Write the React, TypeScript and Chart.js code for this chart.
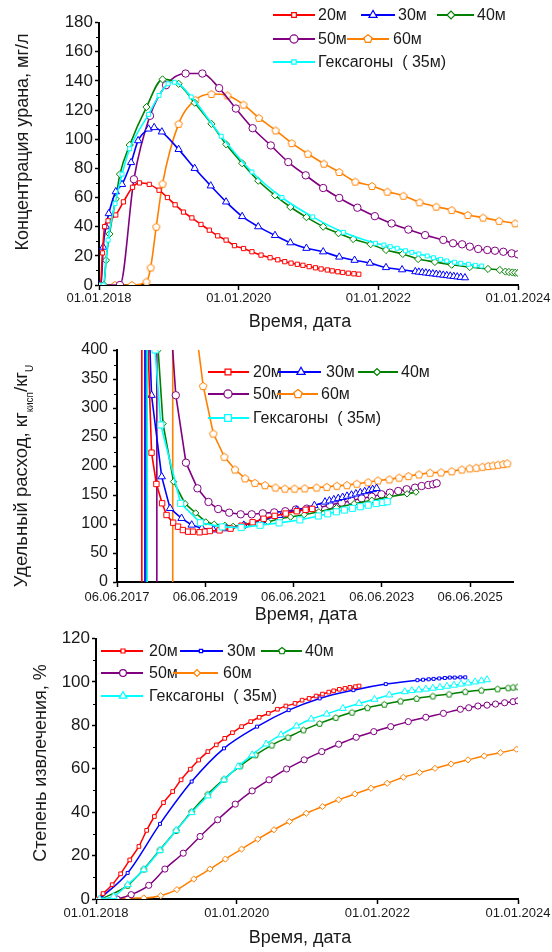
import React, { useEffect, useRef } from 'react';
import { Chart, registerables } from 'chart.js';

Chart.register(...registerables);

// ---------------- DATA ----------------
const seriesNames = ['20м', '30м', '40м', '50м', '60м', 'Гексагоны  ( 35м)'];
const seriesColors = ['#FF0000', '#0000FF', '#008000', '#800080', '#FF8000', '#00FFFF'];

// Panel 1: Концентрация урана, мг/л  (x = decimal year)
const concXTickLabels = ['01.01.2018', '01.01.2020', '01.01.2022', '01.01.2024'];
const concYTicks = [0, 20, 40, 60, 80, 100, 120, 140, 160, 180];

const conc20X = [2018.0, 2018.02, 2018.05, 2018.08, 2018.13, 2018.24, 2018.35, 2018.48, 2018.58, 2018.72, 2018.86, 2018.98, 2019.09, 2019.21, 2019.33, 2019.46, 2019.58, 2019.70, 2019.82, 2019.94, 2020.07, 2020.19, 2020.32, 2020.45, 2020.56, 2020.66, 2020.75, 2020.84, 2020.92, 2021.01, 2021.10, 2021.18, 2021.27, 2021.34, 2021.42, 2021.49, 2021.57, 2021.65, 2021.72];
const conc20Y = [0, 0, 22, 40, 44, 48, 57, 67, 70, 69, 65, 60, 55, 50, 46, 41.5, 37.6, 33.7, 30.8, 27, 25, 22.8, 20.5, 18.7, 17.3, 16, 15, 14.2, 13.5, 12.6, 11.8, 11, 10.3, 9.7, 9.1, 8.6, 8.1, 7.7, 7.4];

const conc30X = [2018.0, 2018.03, 2018.06, 2018.10, 2018.14, 2018.24, 2018.33, 2018.46, 2018.56, 2018.71, 2018.79, 2018.90, 2019.14, 2019.37, 2019.60, 2019.82, 2020.05, 2020.28, 2020.52, 2020.74, 2020.97, 2021.21, 2021.44, 2021.66, 2021.88, 2022.11, 2022.34, 2022.53, 2022.58, 2022.63, 2022.68, 2022.73, 2022.78, 2022.83, 2022.88, 2022.93, 2022.98, 2023.03, 2023.08, 2023.13, 2023.18, 2023.24];
const conc30Y = [0, 0, 26, 40, 49, 64, 69, 84, 99, 107, 108, 105, 93, 80, 68, 57, 47, 40, 34, 29, 25.2, 22.8, 19.2, 17, 15, 12, 10.5, 9.2, 8.9, 8.6, 8.3, 8.0, 7.7, 7.4, 7.1, 6.8, 6.5, 6.2, 5.9, 5.6, 5.3, 5.0];

const conc40X = [2018.0, 2018.07, 2018.10, 2018.15, 2018.24, 2018.30, 2018.44, 2018.68, 2018.91, 2019.14, 2019.37, 2019.61, 2019.82, 2020.05, 2020.28, 2020.52, 2020.74, 2020.97, 2021.21, 2021.43, 2021.64, 2021.89, 2022.11, 2022.35, 2022.57, 2022.81, 2023.05, 2023.31, 2023.57, 2023.74, 2023.82, 2023.87, 2023.92, 2023.96, 2024.0];
const conc40Y = [0, 0, 17, 35, 59, 76, 96, 122, 141, 138, 125, 110.5, 96.5, 83.5, 71.5, 61.5, 53.5, 46.5, 40, 35.5, 31.5, 28, 24, 21.3, 17.8, 15.8, 13.9, 12.3, 11, 10.3, 9.2, 8.9, 8.6, 8.4, 8.2];

const conc50X = [2018.0, 2018.30, 2018.50, 2018.73, 2018.96, 2019.24, 2019.48, 2019.72, 2019.96, 2020.20, 2020.46, 2020.71, 2020.96, 2021.21, 2021.44, 2021.70, 2021.95, 2022.19, 2022.43, 2022.67, 2022.93, 2023.07, 2023.20, 2023.31, 2023.43, 2023.56, 2023.67, 2023.79, 2023.91, 2024.0];
const conc50Y = [0, 0, 72.5, 116, 137, 145, 145, 135, 121, 107.5, 95.7, 84.3, 75.2, 66.5, 59.7, 53, 47.2, 42.2, 38, 34.2, 30.9, 28.6, 27.9, 26.3, 24.7, 24, 23.5, 22.8, 21.7, 21];

const conc60X = [2018.0, 2018.23, 2018.47, 2018.68, 2018.74, 2018.82, 2018.91, 2019.14, 2019.38, 2019.61, 2019.84, 2020.07, 2020.29, 2020.53, 2020.76, 2020.99, 2021.22, 2021.44, 2021.67, 2021.91, 2022.13, 2022.36, 2022.59, 2022.83, 2023.05, 2023.28, 2023.50, 2023.73, 2023.96];
const conc60Y = [0, 0, 0, 2.3, 12, 40, 69.5, 110.5, 127, 131, 130, 123.7, 114.6, 106, 97.3, 90, 83.2, 77.5, 70.9, 67.9, 64, 61.2, 56.7, 53.7, 51.4, 48, 46.2, 44, 42.3];

const concHexX = [2018.0, 2018.06, 2018.13, 2018.23, 2018.33, 2018.44, 2018.71, 2018.86, 2018.99, 2019.08, 2019.32, 2019.75, 2020.19, 2020.62, 2021.06, 2021.50, 2021.96, 2022.08, 2022.17, 2022.27, 2022.39, 2022.48, 2022.58, 2022.70, 2022.79, 2022.89, 2022.98, 2023.09, 2023.18, 2023.29, 2023.39, 2023.48];
const concHexY = [0, 0, 30.8, 55.8, 76, 93.4, 117, 130, 138, 139, 129, 102, 77.5, 60, 46.7, 36.1, 28.6, 27.4, 26.3, 25.2, 23.5, 22.4, 21.3, 19.9, 18.7, 17.6, 16.5, 15.6, 14.9, 14.2, 13.5, 13.0];

// Panel 2: Удельный расход, кг_кисп/кг_U
const specXTickLabels = ['06.06.2017', '06.06.2019', '06.06.2021', '06.06.2023', '06.06.2025'];
const specYTicks = [0, 50, 100, 150, 200, 250, 300, 350, 400];
const specXMax = 2026.4;

const spec20X = [2017.99, 2017.99, 2018.13, 2018.21, 2018.32, 2018.45, 2018.55, 2018.70, 2018.81, 2018.92, 2019.04, 2019.15, 2019.30, 2019.42, 2019.53, 2019.75, 2020.0, 2020.25, 2020.5, 2020.75, 2021.0, 2021.25, 2021.5, 2021.7, 2021.85];
const spec20Y = [0, 3000, 410, 223, 169, 135.7, 115.5, 102.2, 95.4, 89.6, 86.8, 86.8, 85.7, 86.8, 87.9, 89, 92, 97, 103, 109, 114, 118, 122, 124.5, 126];

const spec30X = [2018.06, 2018.06, 2018.17, 2018.21, 2018.44, 2018.63, 2018.89, 2019.12, 2019.35, 2019.61, 2019.9, 2020.3, 2020.7, 2021.1, 2021.5, 2021.9, 2022.14, 2022.24, 2022.34, 2022.44, 2022.54, 2022.64, 2022.74, 2022.84, 2022.94, 2023.04, 2023.14, 2023.22, 2023.31];
const spec30Y = [0, 3000, 410, 322, 181.6, 127, 109.8, 98.3, 92.6, 90, 92, 98, 106, 115, 124, 132, 138, 140, 142, 144, 146, 148, 150, 152, 154, 156, 158, 159.5, 161.5];

const spec40X = [2018.09, 2018.09, 2018.36, 2018.47, 2018.71, 2018.97, 2019.21, 2019.44, 2019.63, 2019.87, 2020.06, 2020.34, 2020.61, 2020.85, 2021.12, 2021.36, 2021.67, 2022.0, 2022.4, 2022.8, 2023.2, 2023.6, 2024.0, 2024.2];
const spec40Y = [0, 3000, 400, 273, 173, 135, 119, 103.6, 99.6, 97.8, 96, 97.8, 100.7, 103.6, 109.4, 112, 116, 121, 128, 135, 141, 147, 152, 155];

const spec50X = [2018.33, 2018.33, 2018.68, 2018.76, 2018.99, 2019.25, 2019.5, 2019.72, 2019.97, 2020.23, 2020.48, 2020.73, 2020.99, 2021.24, 2021.48, 2021.73, 2021.99, 2022.25, 2022.52, 2022.74, 2022.97, 2023.2, 2023.42, 2023.61, 2023.8, 2023.99, 2024.18, 2024.33, 2024.48, 2024.59, 2024.67];
const spec50Y = [0, 3000, 410, 322, 205.7, 161.5, 138, 125.8, 119.5, 116.7, 116.7, 118.4, 120, 122, 125, 126.5, 128, 132.8, 136.8, 140.2, 144.3, 147.1, 151.2, 154, 156.9, 159.9, 162.6, 165.5, 167.2, 168.4, 170.2];

const spec60X = [2018.69, 2018.69, 2019.26, 2019.38, 2019.61, 2019.86, 2020.1, 2020.33, 2020.55, 2020.78, 2021.02, 2021.23, 2021.45, 2021.68, 2021.95, 2022.18, 2022.41, 2022.64, 2022.86, 2023.12, 2023.34, 2023.6, 2023.82, 2024.03, 2024.27, 2024.52, 2024.77, 2025.01, 2025.24, 2025.42, 2025.57, 2025.71, 2025.84, 2025.95, 2026.06, 2026.18, 2026.27];
const spec60Y = [0, 3000, 410, 338, 256, 216, 194, 178.8, 171, 167, 163, 161, 161, 161.5, 163, 164, 166, 167, 169.5, 172, 175, 177, 180, 182.7, 185.5, 188.4, 189, 191, 194, 196, 197, 198.8, 200, 201, 202.2, 203.4, 204.6];

const specHexX = [2018.11, 2018.11, 2018.29, 2018.42, 2018.87, 2019.32, 2019.81, 2020.24, 2020.67, 2021.1, 2021.57, 2021.99, 2022.2, 2022.4, 2022.58, 2022.76, 2022.94, 2023.12, 2023.3, 2023.45, 2023.55];
const specHexY = [0, 3000, 400, 270.7, 135.7, 102.2, 95, 93.8, 97.8, 101.9, 107, 113.8, 117.5, 121, 124, 127, 129.8, 132.5, 135.2, 137, 138.4];

// Panel 3: Степень извлечения, %
const recXTickLabels = ['01.01.2018', '01.01.2020', '01.01.2022', '01.01.2024'];
const recYTicks = [0, 20, 40, 60, 80, 100, 120];

const rec20X = [2018.0, 2018.1, 2018.23, 2018.35, 2018.48, 2018.61, 2018.72, 2018.83, 2018.96, 2019.09, 2019.21, 2019.34, 2019.46, 2019.59, 2019.71, 2019.83, 2019.94, 2020.07, 2020.2, 2020.32, 2020.45, 2020.58, 2020.7, 2020.83, 2020.93, 2021.03, 2021.13, 2021.22, 2021.31, 2021.38, 2021.46, 2021.54, 2021.61, 2021.69, 2021.74];
const rec20Y = [0, 2.5, 6.6, 11.6, 18, 24.2, 31.6, 38, 44.4, 49.5, 54.9, 59.8, 64, 67.9, 71, 74, 76.6, 79.4, 81.7, 83.7, 85.5, 87.4, 88.9, 90.1, 91.6, 92.4, 93.5, 94.4, 95.3, 95.9, 96.6, 97, 97.5, 97.8, 98.1];

const rec30X = [2018.05, 2018.45, 2018.91, 2019.36, 2019.82, 2020.29, 2020.74, 2021.18, 2021.66, 2022.12, 2022.57, 2022.65, 2022.73, 2022.8, 2022.88, 2022.96, 2023.03, 2023.1, 2023.18, 2023.25];
const rec30Y = [0, 12, 34.6, 54.1, 69.4, 79.4, 87, 92.4, 96.2, 99, 100.8, 101, 101.2, 101.4, 101.6, 101.8, 102, 102, 102.1, 102.1];

const rec40X = [2018.08, 2018.45, 2018.68, 2018.91, 2019.14, 2019.36, 2019.59, 2019.82, 2020.05, 2020.27, 2020.5, 2020.73, 2020.95, 2021.18, 2021.41, 2021.64, 2021.86, 2022.1, 2022.33, 2022.56, 2022.79, 2023.02, 2023.25, 2023.48, 2023.71, 2023.86, 2023.93, 2024.0];
const rec40Y = [0, 6.3, 13.8, 22.7, 31.6, 40.3, 48.3, 55.2, 61.3, 66.4, 70.9, 74.5, 77.9, 80.9, 83.6, 86, 88.1, 89.7, 91.2, 92.4, 93.5, 94.4, 95.5, 96.2, 96.8, 97.3, 97.6, 97.8];

const rec50X = [2018.3, 2018.5, 2018.75, 2018.98, 2019.24, 2019.48, 2019.73, 2019.98, 2020.22, 2020.46, 2020.71, 2020.96, 2021.21, 2021.45, 2021.7, 2021.95, 2022.19, 2022.44, 2022.69, 2022.94, 2023.18, 2023.3, 2023.43, 2023.56, 2023.68, 2023.81, 2023.93, 2024.0];
const rec50Y = [0, 2, 6.3, 13.8, 21.1, 28.8, 36.5, 43.7, 49.8, 54.9, 59.9, 64.1, 67.9, 71.3, 74.5, 77.1, 79.4, 81.7, 83.7, 85.5, 87.4, 88.1, 88.9, 89.3, 89.8, 90.4, 90.9, 91.3];

const rec60X = [2018.1, 2018.45, 2018.68, 2018.92, 2019.15, 2019.39, 2019.62, 2019.84, 2020.07, 2020.3, 2020.53, 2020.75, 2020.99, 2021.22, 2021.45, 2021.68, 2021.91, 2022.14, 2022.37, 2022.6, 2022.82, 2023.05, 2023.29, 2023.52, 2023.75, 2023.98];
const rec60Y = [0, 0.5, 0.5, 1.5, 4.3, 9.2, 13.8, 18.4, 23, 27.6, 31.9, 35.7, 39.5, 42.6, 45.7, 48.4, 51, 53.3, 56.1, 58.2, 60.2, 62.2, 64.1, 65.9, 67.4, 69];

const recHexX = [2018.05, 2018.25, 2018.45, 2018.68, 2018.91, 2019.14, 2019.36, 2019.59, 2019.82, 2020.02, 2020.22, 2020.42, 2020.63, 2020.85, 2021.06, 2021.28, 2021.51, 2021.74, 2021.96, 2022.17, 2022.39, 2022.49, 2022.59, 2022.69, 2022.79, 2022.89, 2022.99, 2023.09, 2023.19, 2023.29, 2023.39, 2023.48, 2023.56];
const recHexY = [0, 1.2, 6.6, 13.5, 22.4, 31.6, 39.8, 47.5, 54.9, 61, 66.4, 71.4, 75.6, 79.7, 82.9, 85.2, 87.8, 90.1, 92, 94, 95.5, 96, 96.3, 96.7, 97.1, 97.5, 98, 98.5, 99, 99.5, 100, 100.5, 101];

// ---------------- HELPERS ----------------
const FONT = '"Liberation Sans", Arial, sans-serif';
const TEXT = '#1a1a1a';
const W = 552;

function dateToYear(s: string): number {
  const [d, m, y] = s.split('.').map(Number);
  const doy = (Date.UTC(y, m - 1, d) - Date.UTC(y, 0, 1)) / 86400000;
  return y + doy / 365;
}

function drawMarker(ctx: CanvasRenderingContext2D, style: string, x: number, y: number, r: number, color: string, lw: number) {
  ctx.save();
  ctx.beginPath();
  if (style === 'circle') {
    ctx.arc(x, y, r, 0, Math.PI * 2);
  } else if (style === 'rect') {
    const s = r * Math.SQRT1_2;
    ctx.rect(x - s, y - s, 2 * s, 2 * s);
  } else if (style === 'rectRot') {
    ctx.moveTo(x - r, y); ctx.lineTo(x, y - r); ctx.lineTo(x + r, y); ctx.lineTo(x, y + r); ctx.closePath();
  } else {
    const n = style === 'triangle' ? 3 : 5;
    for (let k = 0; k < n; k++) {
      const a = (k * 2 * Math.PI) / n;
      const px = x + Math.sin(a) * r;
      const py = y - Math.cos(a) * r;
      if (k === 0) ctx.moveTo(px, py); else ctx.lineTo(px, py);
    }
    ctx.closePath();
  }
  ctx.fillStyle = '#ffffff';
  ctx.fill();
  ctx.strokeStyle = color;
  ctx.lineWidth = lw;
  ctx.stroke();
  ctx.restore();
}

function makeMarkerImage(style: string, r: number, color: string, lw: number) {
  const s = Math.ceil(2 * r + 2 * lw + 2);
  const c = document.createElement('canvas');
  c.width = s; c.height = s;
  const cx = c.getContext('2d')!;
  drawMarker(cx, style, s / 2, s / 2 + (style === 'pentagon' ? r * 0.1 : 0), r, color, lw);
  return c;
}

function makeDecor(s: any) {
  return {
    id: 'decor',
    afterDraw(chart: any) {
      const ctx: CanvasRenderingContext2D = chart.ctx;
      const off = s.top;
      const ca = chart.chartArea;
      ctx.save();
      // minor y ticks
      const ys = chart.scales.y;
      ctx.strokeStyle = '#000';
      ctx.lineWidth = 1;
      for (let k = 0; ; k++) {
        const v = ys.min + k * s.yMinor;
        if (v > ys.max + 1e-9) break;
        if (s.yTicks.some((t: number) => Math.abs(t - v) < 1e-9)) continue;
        const py = Math.round(ys.getPixelForValue(v)) + 0.5;
        ctx.beginPath(); ctx.moveTo(ca.left - 3, py); ctx.lineTo(ca.left, py); ctx.stroke();
      }
      // legend
      ctx.textBaseline = 'middle';
      ctx.textAlign = 'left';
      for (const it of s.legend) {
        const y = it.y - off;
        const c = seriesColors[it.i];
        ctx.strokeStyle = c; ctx.lineWidth = 2;
        ctx.beginPath(); ctx.moveTo(it.x1, y); ctx.lineTo(it.x2, y); ctx.stroke();
        drawMarker(ctx, s.styles[it.i], it.mx, y, s.radii[it.i] * 1.1, c, 1.2);
        ctx.font = `${s.legendFont}px ${FONT}`;
        ctx.fillStyle = TEXT;
        ctx.fillText(seriesNames[it.i], it.tx, y + 1);
      }
      // axis titles
      for (const t of s.titles) {
        ctx.save();
        ctx.translate(t.x, t.y - off);
        if (t.rot) ctx.rotate(-Math.PI / 2);
        let total = 0;
        const widths = t.parts.map((p: any) => {
          ctx.font = `${p.size}px ${FONT}`;
          const w = ctx.measureText(p.t).width;
          total += w;
          return w;
        });
        let x = -total / 2;
        ctx.fillStyle = TEXT;
        ctx.textAlign = 'left';
        ctx.textBaseline = 'middle';
        t.parts.forEach((p: any, k: number) => {
          ctx.font = `${p.size}px ${FONT}`;
          ctx.fillText(p.t, x, p.dy || 0);
          x += widths[k];
        });
        ctx.restore();
      }
      ctx.restore();
    },
  };
}

function buildConfig(s: any): any {
  const H = s.height;
  const areaTop = s.area.top - s.top;
  const areaBottom = s.area.bottom - s.top;
  const xTickVals = s.xTicks.map(dateToYear);
  const datasets = s.xs.map((xs: number[], i: number) => {
    const style = s.styles[i];
    const r = s.radii[i];
    const color = seriesColors[i];
    const img = style === 'pentagon' ? makeMarkerImage('pentagon', r, color, 1) : null;
    const yMax = s.yTicks[s.yTicks.length - 1];
    return {
      label: seriesNames[i],
      data: xs.map((x: number, j: number) => ({ x, y: s.ys[i][j] })),
      borderColor: color,
      backgroundColor: '#ffffff',
      borderWidth: s.lineWidth,
      pointStyle: img || style,
      pointRadius: s.hideOff
        ? (c: any) => {
            const v = c.raw ? c.raw.y : 0;
            return v <= 0 || v > yMax ? 0 : r;
          }
        : r,
      pointBorderColor: color,
      pointBackgroundColor: '#ffffff',
      pointBorderWidth: 1,
      cubicInterpolationMode: s.smooth ? 'monotone' : 'default',
      tension: 0,
      order: i === 5 ? -1 : i,
    };
  });
  return {
    type: 'line',
    data: { datasets },
    plugins: [makeDecor(s)],
    options: {
      animation: false,
      responsive: false,
      devicePixelRatio: 1,
      events: [],
      layout: { padding: { left: 0, top: areaTop, right: W - s.area.right, bottom: 0 } },
      plugins: { legend: { display: false }, tooltip: { enabled: false } },
      scales: {
        x: {
          type: 'linear',
          min: s.xMin,
          max: s.xMax,
          afterBuildTicks: (sc: any) => { sc.ticks = xTickVals.map((v: number) => ({ value: v })); },
          afterFit: (sc: any) => {
            sc.height = H - areaBottom;
            sc.paddingLeft = 0; sc.paddingRight = 0; sc.paddingTop = 0; sc.paddingBottom = 0;
          },
          ticks: {
            callback: (_v: any, idx: number) => s.xTicks[idx],
            font: { family: FONT, size: s.xFont },
            color: TEXT,
            padding: s.xPad,
            maxRotation: 0,
            minRotation: 0,
            autoSkip: false,
          },
          grid: { display: true, drawOnChartArea: false, drawTicks: true, tickLength: 5, tickColor: '#000', tickWidth: 1.5 },
          border: { display: true, color: '#000', width: 2 },
        },
        y: {
          type: 'linear',
          min: s.yTicks[0],
          max: s.yTicks[s.yTicks.length - 1],
          afterBuildTicks: (sc: any) => { sc.ticks = s.yTicks.map((v: number) => ({ value: v })); },
          afterFit: (sc: any) => {
            sc.width = s.area.left;
            sc.paddingLeft = 0; sc.paddingRight = 0; sc.paddingTop = 0; sc.paddingBottom = 0;
          },
          ticks: {
            callback: (v: any) => String(v),
            font: { family: FONT, size: s.yFont },
            color: TEXT,
            padding: s.yPad,
          },
          grid: { display: true, drawOnChartArea: false, drawTicks: true, tickLength: 4, tickColor: '#000', tickWidth: 1.5 },
          border: { display: true, color: '#000', width: 2 },
        },
      },
    },
  };
}

// ---------------- PANELS ----------------
const panels: any[] = [
  {
    top: 0, height: 336,
    area: { left: 99, top: 22.5, right: 518, bottom: 285 },
    xMin: 2018, xMax: 2024,
    xTicks: concXTickLabels, yTicks: concYTicks, yMinor: 10,
    xs: [conc20X, conc30X, conc40X, conc50X, conc60X, concHexX],
    ys: [conc20Y, conc30Y, conc40Y, conc50Y, conc60Y, concHexY],
    styles: ['rect', 'triangle', 'rectRot', 'circle', 'pentagon', 'rect'],
    radii: [3, 4.2, 3.6, 3.7, 3.9, 2.8],
    lineWidth: 1.6, smooth: true, hideOff: false,
    yFont: 17, xFont: 13, xPad: 1, yPad: 2, legendFont: 16,
    legend: [
      { i: 0, y: 15, x1: 273, x2: 315, mx: 294, tx: 318 },
      { i: 1, y: 15, x1: 361, x2: 395, mx: 373, tx: 398 },
      { i: 2, y: 15, x1: 437, x2: 474, mx: 451, tx: 477 },
      { i: 3, y: 39, x1: 273, x2: 315, mx: 294, tx: 318 },
      { i: 4, y: 39, x1: 347, x2: 389, mx: 368, tx: 393 },
      { i: 5, y: 62, x1: 273, x2: 315, mx: 294, tx: 318 },
    ],
    titles: [
      { x: 23, y: 142, rot: true, parts: [{ t: 'Концентрация урана, мг/л', size: 18 }] },
      { x: 300, y: 322, rot: false, parts: [{ t: 'Время, дата', size: 18 }] },
    ],
  },
  {
    top: 336, height: 290,
    area: { left: 117, top: 350, right: 513, bottom: 582 },
    xMin: dateToYear(specXTickLabels[0]), xMax: specXMax,
    xTicks: specXTickLabels, yTicks: specYTicks, yMinor: 25,
    xs: [spec20X, spec30X, spec40X, spec50X, spec60X, specHexX],
    ys: [spec20Y, spec30Y, spec40Y, spec50Y, spec60Y, specHexY],
    styles: ['rect', 'triangle', 'rectRot', 'circle', 'pentagon', 'rect'],
    radii: [3.8, 4.3, 3.2, 3.7, 4, 4.3],
    lineWidth: 1.6, smooth: false, hideOff: true,
    yFont: 16, xFont: 13, xPad: 3, yPad: 5, legendFont: 16,
    legend: [
      { i: 0, y: 372, x1: 208, x2: 249, mx: 228, tx: 253 },
      { i: 1, y: 372, x1: 278, x2: 321, mx: 301, tx: 326 },
      { i: 2, y: 372, x1: 358, x2: 398, mx: 377, tx: 401 },
      { i: 3, y: 394, x1: 208, x2: 249, mx: 228, tx: 253 },
      { i: 4, y: 394, x1: 277, x2: 318, mx: 298, tx: 321 },
      { i: 5, y: 418, x1: 208, x2: 249, mx: 228, tx: 253 },
    ],
    titles: [
      {
        x: 22, y: 476, rot: true,
        parts: [
          { t: 'Удельный расход, кг', size: 18.5, dy: 0 },
          { t: 'кисп', size: 10, dy: 8 },
          { t: '/кг', size: 18.5, dy: 0 },
          { t: 'U', size: 10, dy: 8 },
        ],
      },
      { x: 306, y: 615, rot: false, parts: [{ t: 'Время, дата', size: 18 }] },
    ],
  },
  {
    top: 626, height: 326,
    area: { left: 96, top: 638.5, right: 518, bottom: 899 },
    xMin: 2018, xMax: 2024,
    xTicks: recXTickLabels, yTicks: recYTicks, yMinor: 10,
    xs: [rec20X, rec30X, rec40X, rec50X, rec60X, recHexX],
    ys: [rec20Y, rec30Y, rec40Y, rec50Y, rec60Y, recHexY],
    styles: ['rect', 'rect', 'pentagon', 'circle', 'rectRot', 'triangle'],
    radii: [2.6, 2.1, 3.1, 3.1, 3.1, 4],
    lineWidth: 1.5, smooth: true, hideOff: false,
    yFont: 17, xFont: 13, xPad: 2, yPad: 2, legendFont: 16,
    legend: [
      { i: 0, y: 651, x1: 101, x2: 143, mx: 123, tx: 149 },
      { i: 1, y: 651, x1: 180, x2: 223, mx: 201, tx: 227 },
      { i: 2, y: 651, x1: 261, x2: 302, mx: 282, tx: 305 },
      { i: 3, y: 673, x1: 101, x2: 143, mx: 123, tx: 149 },
      { i: 4, y: 673, x1: 173, x2: 218, mx: 197, tx: 223 },
      { i: 5, y: 696, x1: 101, x2: 143, mx: 123, tx: 149 },
    ],
    titles: [
      { x: 41, y: 763, rot: true, parts: [{ t: 'Степень извлечения, %', size: 18 }] },
      { x: 300, y: 938, rot: false, parts: [{ t: 'Время, дата', size: 18 }] },
    ],
  },
];

function Panel({ spec }: { spec: any }) {
  const ref = useRef<HTMLCanvasElement>(null);
  useEffect(() => {
    const canvas = ref.current;
    if (!canvas) return;
    const chart = new Chart(canvas, buildConfig(spec));
    return () => chart.destroy();
  }, [spec]);
  return (
    <canvas
      ref={ref}
      width={W}
      height={spec.height}
      style={{ position: 'absolute', left: 0, top: spec.top, width: W, height: spec.height }}
    />
  );
}

export default function App() {
  return (
    <div style={{ position: 'absolute', left: 0, top: 0, width: W, height: 952, background: '#ffffff' }}>
      {panels.map((p, i) => (
        <Panel key={i} spec={p} />
      ))}
    </div>
  );
}
